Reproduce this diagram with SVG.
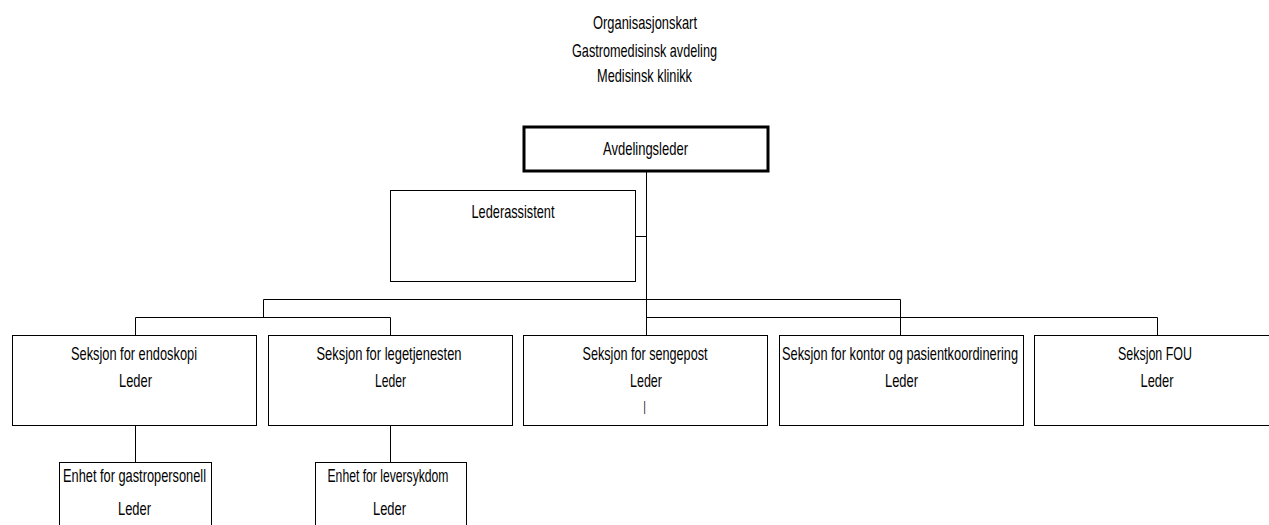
<svg xmlns="http://www.w3.org/2000/svg" width="1269" height="525" viewBox="0 0 1269 525">
<style>
text{font-family:"Liberation Sans",Arial,sans-serif;font-size:18.5px;fill:#000}
.t{font-size:19px}
.box{fill:#fff;stroke:#000;stroke-width:1}
.top{fill:#fff;stroke:#000;stroke-width:3}
.c{fill:none;stroke:#000;stroke-width:1}
</style>
<rect width="1269" height="525" fill="#fff"/>
<g id="title">
<text class="t" x="593" y="28.5" textLength="104" lengthAdjust="spacingAndGlyphs">Organisasjonskart</text>
<text class="t" x="572" y="56.5" textLength="145" lengthAdjust="spacingAndGlyphs">Gastromedisinsk avdeling</text>
<text class="t" x="597" y="81.5" textLength="95" lengthAdjust="spacingAndGlyphs">Medisinsk klinikk</text>
</g>
<g id="connectors">
<path class="c" d="M646.5 172V335M635.5 236.5H646.5M263.5 299.5H900.5M263.5 299.5V317.5M135.5 317.5H390.5M135.5 317.5V335M390.5 317.5V335M900.5 299.5V335M646.5 317.5H1157.5V335M135.5 425.5V462.5M390.5 425.5V462.5"/>
</g>
<g id="avdelingsleder">
<rect class="top" x="524" y="127" width="244" height="44"/>
<text class="t" x="603" y="155" textLength="85" lengthAdjust="spacingAndGlyphs">Avdelingsleder</text>
</g>
<g id="lederassistent">
<rect class="box" x="390.5" y="190.5" width="245" height="91"/>
<text x="471.5" y="217.5" textLength="83" lengthAdjust="spacingAndGlyphs">Lederassistent</text>
</g>
<g id="endoskopi">
<rect class="box" x="12.5" y="335.5" width="244" height="90"/>
<text x="71" y="359.5" textLength="126" lengthAdjust="spacingAndGlyphs">Seksjon for endoskopi</text>
<text x="119" y="387" textLength="33" lengthAdjust="spacingAndGlyphs">Leder</text>
</g>
<g id="legetjenesten">
<rect class="box" x="268.5" y="335.5" width="244" height="90"/>
<text x="316.5" y="359.5" textLength="145" lengthAdjust="spacingAndGlyphs">Seksjon for legetjenesten</text>
<text x="375" y="387" textLength="31" lengthAdjust="spacingAndGlyphs">Leder</text>
</g>
<g id="sengepost">
<rect class="box" x="523.5" y="335.5" width="244" height="90"/>
<text x="582.5" y="359.5" textLength="125" lengthAdjust="spacingAndGlyphs">Seksjon for sengepost</text>
<text x="630" y="387" textLength="32" lengthAdjust="spacingAndGlyphs">Leder</text>
<text x="643.5" y="413.5" textLength="2.2" lengthAdjust="spacingAndGlyphs">I</text>
</g>
<g id="kontor">
<rect class="box" x="779.5" y="335.5" width="244" height="90"/>
<text x="782" y="359.5" textLength="236" lengthAdjust="spacingAndGlyphs">Seksjon for kontor og pasientkoordinering</text>
<text x="885" y="387" textLength="33" lengthAdjust="spacingAndGlyphs">Leder</text>
</g>
<g id="fou">
<rect class="box" x="1034.5" y="335.5" width="245" height="90"/>
<text x="1118" y="359.5" textLength="74" lengthAdjust="spacingAndGlyphs">Seksjon FOU</text>
<text x="1140.5" y="387" textLength="33" lengthAdjust="spacingAndGlyphs">Leder</text>
</g>
<g id="gastropersonell">
<rect class="box" x="59.5" y="462.5" width="152" height="90"/>
<text x="63" y="481.5" textLength="143" lengthAdjust="spacingAndGlyphs">Enhet for gastropersonell</text>
<text x="118" y="514.5" textLength="33" lengthAdjust="spacingAndGlyphs">Leder</text>
</g>
<g id="leversykdom">
<rect class="box" x="315.5" y="462.5" width="151" height="90"/>
<text x="327.5" y="481.5" textLength="121" lengthAdjust="spacingAndGlyphs">Enhet for leversykdom</text>
<text x="373" y="514.5" textLength="33" lengthAdjust="spacingAndGlyphs">Leder</text>
</g>
</svg>
